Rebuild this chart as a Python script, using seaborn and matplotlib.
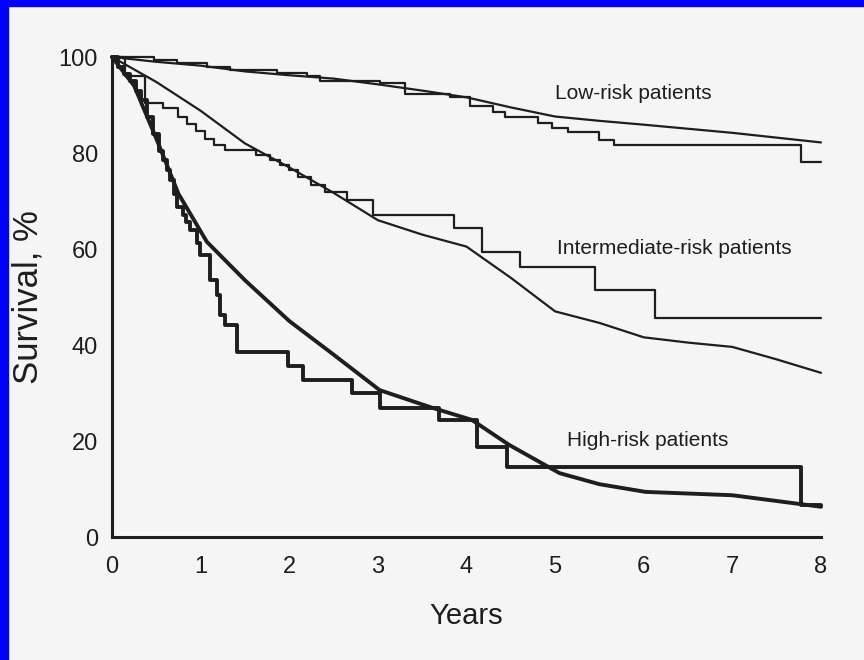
import matplotlib
matplotlib.use("Agg")
import matplotlib.pyplot as plt
from matplotlib.patches import Rectangle
import seaborn as sns

# ---------------------------------------------------------------------------
# Data (years, survival %)
# ---------------------------------------------------------------------------

# Low-risk: observed (Kaplan-Meier steps) and predicted (smooth)
low_km_t = [0, 0.47, 0.73, 1.07, 1.33, 1.86, 2.2, 2.35, 3.02, 3.31, 3.81, 4.04,
            4.3, 4.44, 4.81, 4.96, 5.15, 5.49, 5.66, 7.77, 8.0]
low_km_v = [100, 99.4, 98.8, 98.0, 97.2, 96.6, 96.0, 95.0, 94.6, 92.2, 91.6, 89.8,
            88.6, 87.4, 86.3, 85.2, 84.3, 82.8, 81.7, 78.2, 78.2]
low_fit_t = [0, 0.5, 1, 1.5, 2, 2.5, 3, 3.5, 4, 4.5, 5, 5.5, 6, 7, 8]
low_fit_v = [100, 99, 98.2, 97, 96.2, 95.5, 94.3, 93, 91.6, 89.5, 87.6, 86.7, 85.9, 84.2, 82.2]

# Intermediate-risk
int_km_t = [0, 0.15, 0.37, 0.58, 0.75, 0.85, 0.95, 1.05, 1.15, 1.27, 1.63, 1.78,
            1.9, 2.0, 2.1, 2.25, 2.4, 2.65, 2.95, 3.86, 4.18, 4.6, 5.45, 6.13, 8.0]
int_km_v = [100, 96, 90.4, 89.3, 87.5, 86, 84.5, 83, 81.6, 80.6, 79.6, 78.5,
            77.5, 76.5, 75, 73.3, 71.9, 70.2, 67, 64.3, 59.4, 56.3, 51.5, 45.6, 45.6]
int_fit_t = [0, 0.5, 1, 1.5, 2, 2.5, 3, 3.5, 4, 4.5, 5, 5.5, 6, 6.5, 7, 7.5, 8]
int_fit_v = [100, 94.8, 88.8, 82, 77, 71.7, 66, 63, 60.5, 54, 47, 44.6, 41.6, 40.5, 39.6, 37, 34.2]

# High-risk
high_km_t = [0, 0.07, 0.14, 0.2, 0.27, 0.33, 0.4, 0.46, 0.53, 0.58, 0.62, 0.66,
             0.7, 0.73, 0.8, 0.84, 0.88, 0.96, 0.99, 1.11, 1.18, 1.22, 1.28, 1.41,
             1.99, 2.16, 2.71, 3.02, 3.69, 4.12, 4.46, 7.77, 8.0]
high_km_v = [100, 98, 96.5, 95, 93, 91, 87.5, 84, 80.5, 78.5, 76.5, 74.4,
             71.5, 68.8, 67, 65.6, 64, 61.2, 58.7, 53.5, 50.5, 46.2, 44.2, 38.5,
             35.6, 32.7, 30.0, 26.9, 24.3, 18.8, 14.6, 6.7, 6.7]
high_fit_t = [0, 0.25, 0.5, 0.75, 1.07, 1.5, 2, 2.5, 3.02, 3.6, 4.06, 4.48, 5.05,
              5.5, 6.02, 7, 8]
high_fit_v = [100, 94, 83, 71.5, 61.5, 53.5, 45, 38, 30.6, 27, 24.4, 19.2, 13.3,
              11, 9.4, 8.7, 6.3]

group_labels = ["Low-risk patients", "Intermediate-risk patients", "High-risk patients"]
label_pos = [(5.88, 92.3), (6.35, 60.0), (6.05, 20.0)]

x_ticks = [0, 1, 2, 3, 4, 5, 6, 7, 8]
y_ticks = [0, 20, 40, 60, 80, 100]

# ---------------------------------------------------------------------------
# Plot
# ---------------------------------------------------------------------------

sns.set_style("white")
plt.rcParams["font.family"] = ["Liberation Sans", "DejaVu Sans"]

INK = "#1e1e1e"
BG = "#f5f5f5"

fig = plt.figure(figsize=(8.64, 6.6), dpi=100, facecolor=BG)
ax = fig.add_axes([112 / 864, 1 - 537 / 660, (821 - 112) / 864, (537 - 57) / 660])
ax.set_facecolor(BG)

groups = [
    (low_km_t, low_km_v, low_fit_t, low_fit_v, 1.6),
    (int_km_t, int_km_v, int_fit_t, int_fit_v, 1.6),
    (high_km_t, high_km_v, high_fit_t, high_fit_v, 2.8),
]
for km_t, km_v, fit_t, fit_v, lw in groups:
    sns.lineplot(x=km_t, y=km_v, ax=ax, color=INK, lw=lw, estimator=None,
                 sort=False, drawstyle="steps-post", clip_on=False)
    sns.lineplot(x=fit_t, y=fit_v, ax=ax, color=INK, lw=lw, estimator=None,
                 sort=False, clip_on=False)

for text, (tx, ty) in zip(group_labels, label_pos):
    ax.text(tx, ty, text, fontsize=15, color=INK, ha="center", va="center")

ax.set_xlim(0, 8)
ax.set_ylim(0, 100)
ax.set_xticks(x_ticks)
ax.set_yticks(y_ticks)
ax.tick_params(axis="x", direction="in", length=14, width=2, color=INK,
               labelsize=17, pad=14, labelcolor=INK)
ax.tick_params(axis="y", direction="in", length=10, width=2, color=INK,
               labelsize=17, pad=10, labelcolor=INK)
# hide the tick marks at the corner
ax.xaxis.get_major_ticks()[0].tick1line.set_visible(False)
ax.yaxis.get_major_ticks()[0].tick1line.set_visible(False)
ax.yaxis.get_major_ticks()[-1].tick1line.set_visible(False)

sns.despine(ax=ax)
for side in ("left", "bottom"):
    ax.spines[side].set_linewidth(2.2)
    ax.spines[side].set_color(INK)

ax.set_xlabel("Years", fontsize=21, color=INK, labelpad=17)
ax.set_ylabel("Survival, %", fontsize=25, color=INK)
ax.yaxis.set_label_coords(-0.095, 0.5)

# blue frame of the source slide (top and left edges)
fig.patches.append(Rectangle((0, 1 - 6 / 660), 1, 6 / 660, transform=fig.transFigure,
                             color="#0000ff", zorder=10))
fig.patches.append(Rectangle((0, 0), 8 / 864, 1, transform=fig.transFigure,
                             color="#0000ff", zorder=10))

fig.savefig("out.png", dpi=100, facecolor=BG)
